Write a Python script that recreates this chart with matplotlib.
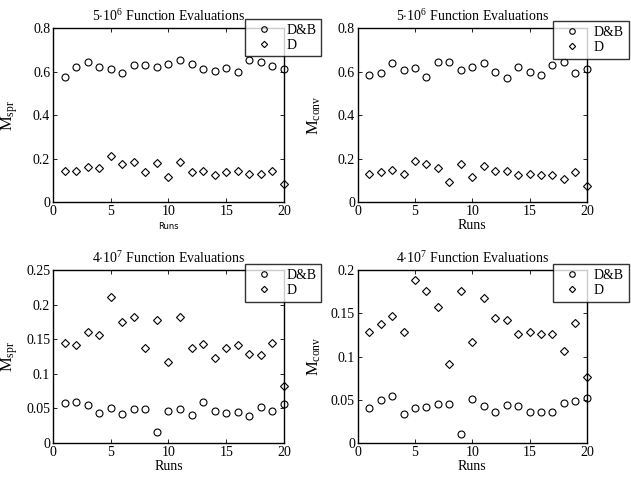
import matplotlib
matplotlib.use('Agg')
import matplotlib.pyplot as plt
import numpy as np

plt.rcParams['font.family'] = ['Liberation Serif', 'DejaVu Serif']
plt.rcParams['mathtext.fontset'] = 'custom'
plt.rcParams['mathtext.rm'] = 'Liberation Serif'
plt.rcParams['mathtext.it'] = 'Liberation Serif:italic'

runs = np.arange(1, 21)

# 5e6 evaluations, spread metric
db_spr_5e6 = [0.577, 0.620, 0.642, 0.620, 0.614, 0.592, 0.629, 0.629, 0.620, 0.634,
              0.655, 0.634, 0.614, 0.603, 0.618, 0.600, 0.651, 0.645, 0.625, 0.614]
# 5e6 evaluations, convergence metric
db_conv_5e6 = [0.585, 0.595, 0.640, 0.608, 0.615, 0.574, 0.643, 0.643, 0.605, 0.623,
               0.640, 0.598, 0.572, 0.620, 0.598, 0.586, 0.632, 0.643, 0.595, 0.611]
# 4e7 evaluations
db_spr_4e7 = [0.0579, 0.0589, 0.0545, 0.0434, 0.0512, 0.0415, 0.0492, 0.0492, 0.0164, 0.0468,
              0.0492, 0.0405, 0.0589, 0.0463, 0.0434, 0.0449, 0.0391, 0.0526, 0.0459, 0.0565]
db_conv_4e7 = [0.0405, 0.0502, 0.0548, 0.0332, 0.0405, 0.0417, 0.0452, 0.0452, 0.0104, 0.0506,
               0.0425, 0.0363, 0.0444, 0.0432, 0.0363, 0.0363, 0.0363, 0.0467, 0.0486, 0.0517]
# D is the same in both rows
d_spr = [0.145, 0.142, 0.160, 0.157, 0.211, 0.175, 0.182, 0.138, 0.178, 0.117,
         0.183, 0.138, 0.143, 0.123, 0.138, 0.142, 0.129, 0.128, 0.145, 0.082]
d_conv = [0.129, 0.138, 0.147, 0.129, 0.189, 0.176, 0.158, 0.091, 0.176, 0.117,
          0.168, 0.145, 0.142, 0.126, 0.129, 0.126, 0.126, 0.106, 0.139, 0.076]


def panel(pos, db, d, title, ylabel, yticks, ylim, leg_anchor, ylab_x, small_xlabel=False):
    ax = fig.add_axes(pos)
    ax.plot(runs, db, 'o', ms=5, mfc='none', mec='black', mew=0.8, label='D&B', clip_on=False)
    ax.plot(runs, d, 'D', ms=4, mfc='none', mec='black', mew=0.8, label='D', clip_on=False)
    ax.set_xlim(0, 20)
    ax.set_ylim(*ylim)
    ax.set_xticks([0, 5, 10, 15, 20])
    ax.set_yticks(yticks)
    ax.set_yticklabels(['%g' % t for t in yticks])
    ax.tick_params(direction='in', top=True, right=True, length=3, width=0.6,
                   labelsize=10, pad=2)
    for s in ax.spines.values():
        s.set_linewidth(1.0)
    ax.set_title(title, fontsize=10, pad=5)
    ax.set_ylabel(ylabel, fontsize=12)
    ax.yaxis.set_label_coords(ylab_x, 0.5)
    if small_xlabel:
        ax.set_xlabel('Runs', fontsize=6, family='DejaVu Sans', labelpad=3)
    else:
        ax.set_xlabel('Runs', fontsize=10, labelpad=1)
    leg = ax.legend(loc='upper right', bbox_to_anchor=leg_anchor, fontsize=10,
                    frameon=True, fancybox=False, borderaxespad=0, borderpad=0.35,
                    labelspacing=0.12, handlelength=2.0, handletextpad=0.6,
                    markerscale=0.8)
    leg.get_frame().set_edgecolor('black')
    leg.get_frame().set_linewidth(1.0)
    return ax


fig = plt.figure(figsize=(6.31, 4.80), dpi=100)

panel([0.084, 0.579, 0.366, 0.3625], db_spr_5e6, d_spr,
      r'5$\cdot$10$^{6}$ Function Evaluations', r'M$_{\rm spr}$',
      [0, 0.2, 0.4, 0.6, 0.8], (0, 0.8), (1.16, 1.052), -0.143, small_xlabel=True)
panel([0.567, 0.579, 0.363, 0.3625], db_conv_5e6, d_conv,
      r'5$\cdot$10$^{6}$ Function Evaluations', r'M$_{\rm conv}$',
      [0, 0.2, 0.4, 0.6, 0.8], (0, 0.8), (1.183, 1.04), -0.153)
panel([0.084, 0.077, 0.366, 0.36], db_spr_4e7, d_spr,
      r'4$\cdot$10$^{7}$ Function Evaluations', r'M$_{\rm spr}$',
      [0, 0.05, 0.1, 0.15, 0.2, 0.25], (0, 0.25), (1.16, 1.035), -0.143)
panel([0.567, 0.077, 0.363, 0.36], db_conv_4e7, d_conv,
      r'4$\cdot$10$^{7}$ Function Evaluations', r'M$_{\rm conv}$',
      [0, 0.05, 0.1, 0.15, 0.2], (0, 0.2), (1.183, 1.035), -0.153)

fig.savefig('out.png', dpi=100)
